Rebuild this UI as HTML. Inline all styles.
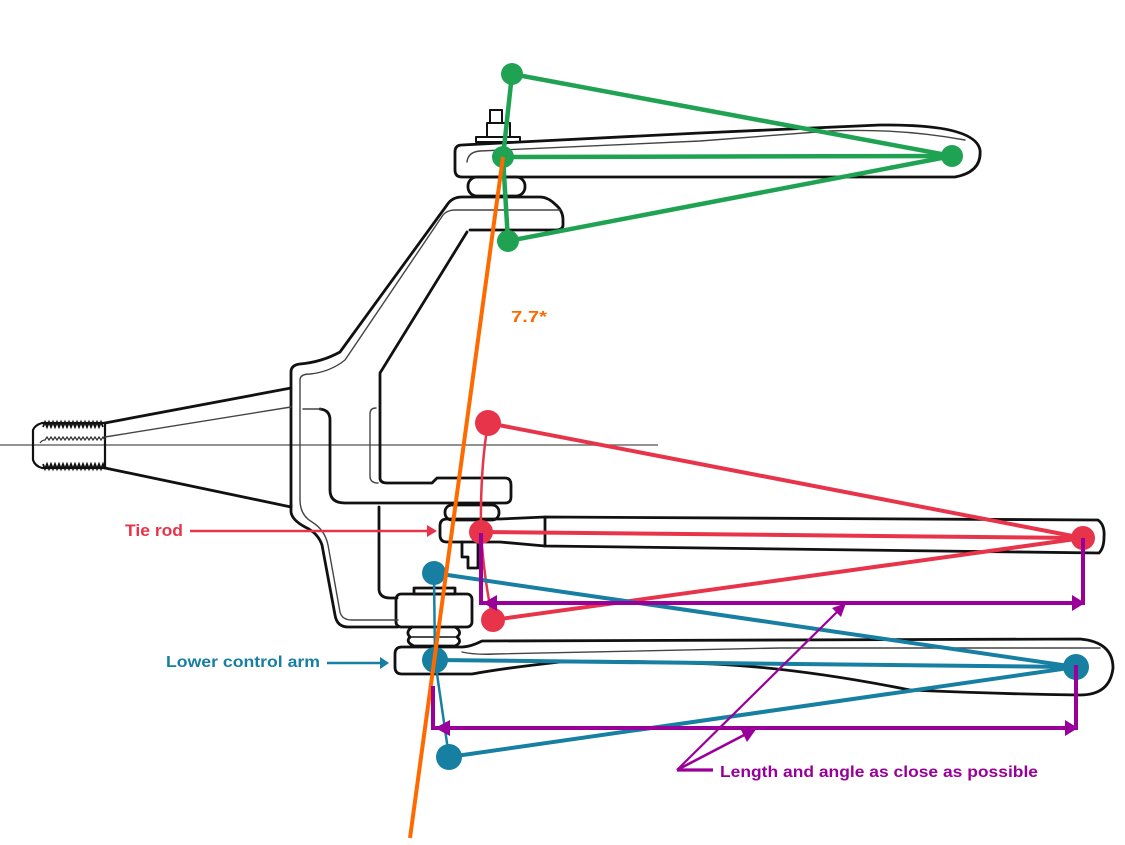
<!DOCTYPE html>
<html><head><meta charset="utf-8"><style>
html,body{margin:0;padding:0;background:#fff;}
svg{display:block;}
text{font-family:"Liberation Sans","DejaVu Sans",sans-serif;font-weight:bold;}
</style></head><body>
<svg width="1125" height="845" viewBox="0 0 1125 845" xmlns="http://www.w3.org/2000/svg">
<rect width="1125" height="845" fill="#fff"/>

<!-- horizontal axis -->
<line x1="0" y1="445" x2="658" y2="445" stroke="#6e6e6e" stroke-width="1.6"/>

<g fill="none" stroke="#111" stroke-width="2.8" stroke-linejoin="round" stroke-linecap="round">
  <!-- spindle -->
  <path d="M105,423 L291,388"/>
  <path d="M105,468 L291,507"/>
  <path d="M42,423 L105,423 L105,468 L42,468 Q35,466 33,460 L33,430 Q35,425 42,423 Z" stroke-width="2.2"/>
  <!-- upper arm of knuckle -->
  <path d="M291,505 L291,372 Q291,365 300,364 Q322,362 340,352 L447,205 Q452,197 462,197 L540,197 Q548,197 556,205 Q563,211 563,220 L563,225 Q563,230 556,230 L470,230"/>
  <path d="M467,232 L380,373 L380,478 Q380,483 387,483 L432,483 L437,478 L505,478 Q511,478 511,485 L511,497 Q511,503 505,503 L345,503 Q330,503 330,490 L330,420 Q330,410 320,409"/>
  <!-- lower outer -->
  <path d="M291,505 L291,512 Q292,520 305,527 Q318,533 322,545 L335,615 Q337,627 348,627 L398,627"/>
  <path d="M379,507 L379,590 Q380,598 390,598 L397,598"/>
  <!-- washer between steering arm and tie rod -->
  <rect x="445" y="505" width="54" height="15" rx="7"/>
  <!-- tie rod -->
  <path d="M447,519 L500,519 L545,517 L1098,520 Q1105,525 1104,537 Q1104,548 1099,553 L545,546 L500,542 L447,542 Q440,542 440,535 L440,526 Q440,519 447,519 Z"/>
  <path d="M545,517 L545,546"/>
  <path d="M462,542 L462,557 L468,557 L468,568 L478,568 L478,542"/>
  <!-- lower ball joint -->
  <rect x="414" y="588" width="41" height="6"/>
  <rect x="396" y="594" width="76" height="33" rx="5"/>
  <path d="M412,627 Q405,632 410,637 Q405,642 414,646 L455,646 Q463,642 457,637 Q463,632 455,627"/>
  <path d="M410,637 L457,637" stroke-width="1.5"/>
  <!-- lower control arm -->
  <path d="M402,647 L462,647 Q470,647 482,641 L1080,639 Q1113,642 1113,668 Q1110,695 1080,695 Q1000,694 910,690 Q800,668 713,664 Q610,660 560,662 Q505,668 472,674 L402,674 Q395,674 395,667 L395,654 Q395,647 402,647 Z"/>
  <!-- upper control arm -->
  <path d="M462,145 L520,142 Q600,138 700,133 L880,125 Q975,124 980,150 Q982,172 955,177 L462,177 Q455,177 455,170 L455,152 Q455,145 462,145 Z"/>
  <rect x="490" y="110" width="12" height="13" stroke-width="2"/>
  <rect x="487" y="123" width="23" height="14" stroke-width="2"/>
  <rect x="476" y="137" width="44" height="5" stroke-width="2"/>
  <rect x="468" y="177" width="57" height="19" rx="9"/>
</g>

<!-- threads -->
<g fill="none" stroke="#111" stroke-linejoin="miter">
  <path d="M43,427 l2,-5 l2,5 l2,-5 l2,5 l2,-5 l2,5 l2,-5 l2,5 l2,-5 l2,5 l2,-5 l2,5 l2,-5 l2,5 l2,-5 l2,5 l2,-5 l2,5 l2,-5 l2,5 l2,-5 l2,5 l2,-5 l2,5 l2,-5 l2,5 l2,-5 l2,5 l2,-5 l2,5" stroke-width="1.8"/>
  <path d="M43,464 l2,5 l2,-5 l2,5 l2,-5 l2,5 l2,-5 l2,5 l2,-5 l2,5 l2,-5 l2,5 l2,-5 l2,5 l2,-5 l2,5 l2,-5 l2,5 l2,-5 l2,5 l2,-5 l2,5 l2,-5 l2,5 l2,-5 l2,5 l2,-5 l2,5 l2,-5 l2,5 l2,-5 l2,5" stroke-width="1.8"/>
  <path d="M40,443 Q42,440 45,440 l2,-3 l2,3 l2,-3 l2,3 l2,-3 l2,3 l2,-3 l2,3 l2,-3 l2,3 l2,-3 l2,3 l2,-3 l2,3 l2,-3 l2,3 l2,-3 l2,3 l2,-3 l2,3 l2,-3 l2,3 l2,-3 l2,3 l2,-3 l2,3 l2,-3 l2,3 l2,-3 l2,3" stroke-width="1.2" stroke="#333"/>
</g>

<!-- thin inner offset lines -->
<g fill="none" stroke="#444" stroke-width="1.4" stroke-linecap="round">
  <path d="M105,437 L291,407"/>
  <path d="M300,500 L300,380 Q300,374 310,374 Q330,372 345,360 L443,215 Q447,210 455,210 L560,210"/>
  <path d="M300,500 Q300,515 312,522 Q325,530 328,545 L340,612 Q342,620 352,620 L398,620"/>
  <path d="M303,409 L321,409"/>
  <path d="M376,408 Q370,408 370,414 L370,476 Q370,483 378,483"/>
  <path d="M467,162 Q468,152 480,151 L700,141 L830,131 Q900,128 965,140"/>
  <path d="M462,652 Q475,655 495,654 L780,648 L1100,648"/>
</g>

<!-- green -->
<g stroke="#1fa353" stroke-width="4.5" fill="none" stroke-linecap="round">
  <line x1="512" y1="74" x2="952" y2="156"/>
  <line x1="503" y1="157" x2="952" y2="156"/>
  <line x1="508" y1="241" x2="952" y2="156"/>
  <path d="M512,74 L503,157 L508,241"/>
</g>
<g fill="#1fa353">
  <circle cx="512" cy="74" r="11"/>
  <circle cx="503" cy="157" r="11"/>
  <circle cx="508" cy="241" r="11"/>
  <circle cx="952" cy="156" r="11"/>
</g>

<!-- red -->
<g stroke="#e8344a" stroke-width="4" fill="none" stroke-linecap="round">
  <line x1="488" y1="423" x2="1083" y2="538"/>
  <line x1="481" y1="532" x2="1083" y2="538"/>
  <line x1="493" y1="620" x2="1083" y2="538"/>
  <path d="M488,423 Q480,470 481,532 Q484,580 493,620" stroke-width="2.5"/>
</g>
<g fill="#e8344a">
  <circle cx="488" cy="423" r="13"/>
  <circle cx="481" cy="532" r="12"/>
  <circle cx="493" cy="620" r="12"/>
  <circle cx="1083" cy="538" r="12"/>
</g>

<!-- blue -->
<g stroke="#167fa2" stroke-width="4" fill="none" stroke-linecap="round">
  <line x1="434" y1="573" x2="1076" y2="667"/>
  <line x1="435" y1="660" x2="1076" y2="667"/>
  <line x1="449" y1="757" x2="1076" y2="667"/>
  <path d="M434,573 L435,660 L449,757" stroke-width="2.5"/>
</g>
<g fill="#167fa2">
  <circle cx="434" cy="573" r="12"/>
  <circle cx="435" cy="660" r="13"/>
  <circle cx="449" cy="757" r="13"/>
  <circle cx="1076" cy="667" r="13"/>
</g>

<!-- orange kingpin axis -->
<line x1="503" y1="157" x2="410" y2="838" stroke="#ff6a00" stroke-width="4"/>
<text x="511" y="322" font-size="16" fill="#ff6a00" textLength="36" lengthAdjust="spacingAndGlyphs">7.7*</text>

<!-- purple brackets -->
<g stroke="#990099" stroke-width="4" fill="none" stroke-linecap="square">
  <path d="M481,535 L481,603 L1080,603"/>
  <path d="M1083,540 L1083,603"/>
  <path d="M433,688 L433,728 L1074,728"/>
  <path d="M1076,667 L1076,728"/>
</g>
<g fill="#990099">
  <polygon points="483,603 497,595 497,611"/>
  <polygon points="1085,603 1072,595 1072,611"/>
  <polygon points="435,728 450,720 450,736"/>
  <polygon points="1078,728 1065,720 1065,736"/>
</g>
<!-- pointer -->
<g stroke="#990099" fill="none">
  <line x1="677" y1="770" x2="840" y2="609" stroke-width="2.2"/>
  <line x1="677" y1="770" x2="748" y2="733" stroke-width="2.6"/>
  <line x1="677" y1="770" x2="713" y2="770" stroke-width="3.2"/>
</g>
<g fill="#990099">
  <polygon points="846,603 841,617 832,608"/>
  <polygon points="757,728 747,742 741,730"/>
</g>
<text x="720" y="777" font-size="16" fill="#990099" textLength="318" lengthAdjust="spacingAndGlyphs">Length and angle as close as possible</text>

<!-- labels -->
<text x="125" y="536" font-size="17" fill="#e8344a" textLength="58" lengthAdjust="spacingAndGlyphs">Tie rod</text>
<line x1="190" y1="531" x2="429" y2="531" stroke="#e8344a" stroke-width="2.6"/>
<polygon points="437,531 427,525 427,537" fill="#e8344a"/>

<text x="166" y="667" font-size="16" fill="#167fa2" textLength="154" lengthAdjust="spacingAndGlyphs">Lower control arm</text>
<line x1="327" y1="663" x2="381" y2="663" stroke="#167fa2" stroke-width="2.6"/>
<polygon points="389,663 380,657 380,669" fill="#167fa2"/>
</svg>
</body></html>
